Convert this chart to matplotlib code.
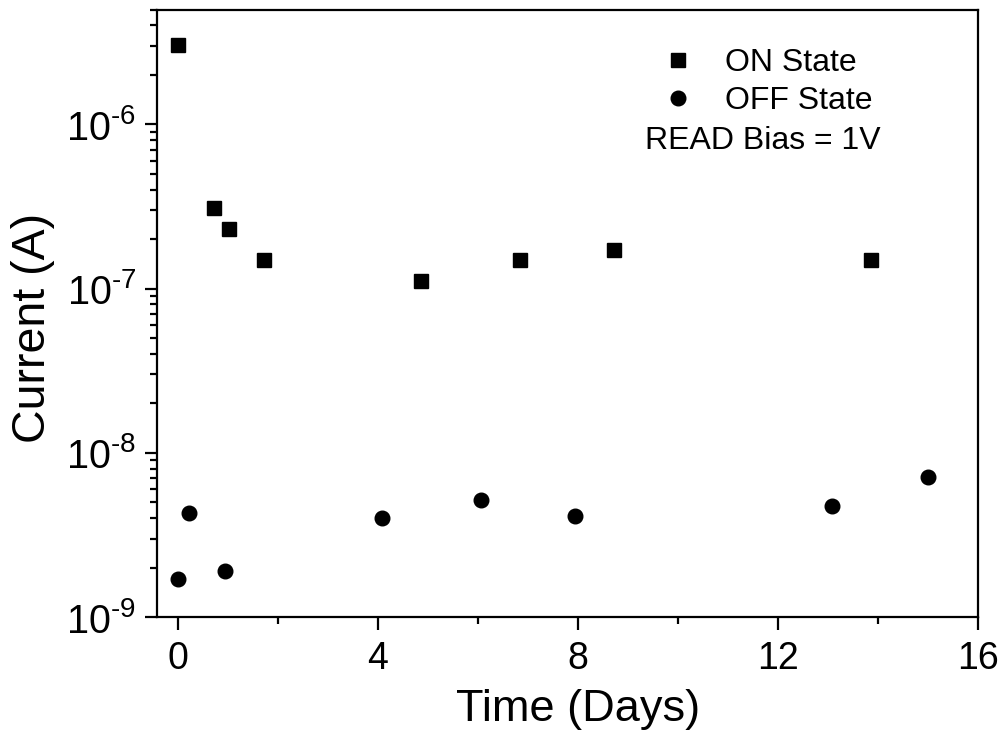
import matplotlib
matplotlib.use("Agg")
import matplotlib.pyplot as plt
from matplotlib.ticker import FixedLocator, FixedFormatter, LogLocator, NullFormatter, MultipleLocator

plt.rcParams['font.family'] = ['Liberation Sans', 'DejaVu Sans']
plt.rcParams['mathtext.fontset'] = 'custom'
plt.rcParams['mathtext.rm'] = 'Liberation Sans'
plt.rcParams['mathtext.it'] = 'Liberation Sans'
plt.rcParams['mathtext.default'] = 'regular'

on_days = [0.0, 0.73, 1.02, 1.72, 4.86, 6.85, 8.73, 13.86]
on_current = [3.03e-6, 3.10e-7, 2.31e-7, 1.50e-7, 1.11e-7, 1.50e-7, 1.71e-7, 1.50e-7]
off_days = [0.0, 0.23, 0.94, 4.08, 6.06, 7.95, 13.08, 15.0]
off_current = [1.70e-9, 4.29e-9, 1.90e-9, 4.0e-9, 5.17e-9, 4.11e-9, 4.71e-9, 7.11e-9]

x_ticks = [0, 4, 8, 12, 16]
y_ticks = [1e-9, 1e-8, 1e-7, 1e-6]
y_tick_labels = ['$10^{\\text{-9}}$', '$10^{\\text{-8}}$', '$10^{\\text{-7}}$', '$10^{\\text{-6}}$']

fig = plt.figure(figsize=(10.08, 7.37), dpi=100)
ax = fig.add_axes([0.1558, 0.1628, 0.8144, 0.8243])

ax.plot(on_days, on_current, linestyle='none', marker='s', markersize=9.5,
        color='black', label='ON State')
ax.plot(off_days, off_current, linestyle='none', marker='o', markersize=10.5,
        color='black', label='OFF State')

ax.set_yscale('log')
ax.set_xlim(-0.41, 16)
ax.set_ylim(1e-9, 5.0e-6)

ax.xaxis.set_major_locator(FixedLocator(x_ticks))
ax.xaxis.set_minor_locator(MultipleLocator(2))
ax.yaxis.set_major_locator(FixedLocator(y_ticks))
ax.yaxis.set_major_formatter(FixedFormatter(y_tick_labels))
ax.yaxis.set_minor_locator(LogLocator(base=10, subs=range(2, 10), numticks=20))
ax.yaxis.set_minor_formatter(NullFormatter())

for s in ax.spines.values():
    s.set_linewidth(1.6)
ax.tick_params(which='major', direction='out', length=9, width=1.6, labelsize=27)
ax.tick_params(axis='x', which='major', pad=8)
ax.tick_params(axis='y', which='major', pad=6, labelsize=28.5)
ax.tick_params(which='minor', direction='out', length=5, width=1.6)
ax.tick_params(top=False, right=False, which='both')

ax.set_xlabel('Time (Days)', fontsize=32.5)
ax.set_ylabel('Current (A)', fontsize=33.5)
ax.xaxis.set_label_coords(0.5128, -0.118)
ax.yaxis.set_label_coords(-0.124, 0.4757)

leg = ax.legend(loc='upper left', bbox_to_anchor=(0.615, 0.937), frameon=False,
                fontsize=23, handletextpad=0.97, labelspacing=0.27,
                handlelength=1.0, borderpad=0.0, borderaxespad=0.0)
ax.text(0.594, 0.7835, 'READ Bias = 1V', transform=ax.transAxes, fontsize=23,
        ha='left', va='center')

fig.savefig('out.png', dpi=100)
